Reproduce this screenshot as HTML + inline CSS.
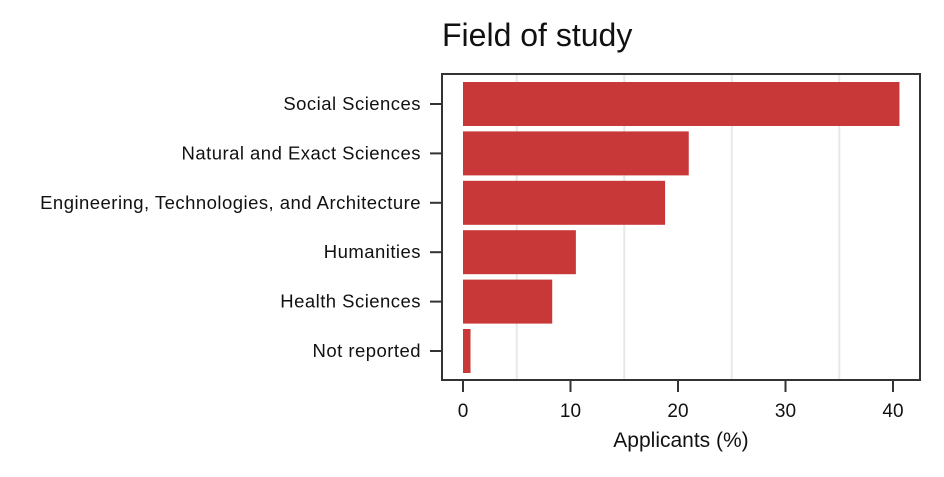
<!DOCTYPE html>
<html><head><meta charset="utf-8"><style>
body{margin:0;background:#fff;}
svg text{font-family:"Liberation Sans",sans-serif;fill:#111;}
</style></head><body>
<svg id="chart" width="944" height="472">
<text x="442" y="46" font-size="32">Field of study</text>
<g id="grid"></g><g id="bars"></g>
<rect x="442" y="74" width="478" height="306" fill="none" stroke="#333" stroke-width="2"/>
<g id="axes"></g>
<text x="681" y="447" font-size="21" text-anchor="middle">Applicants (%)</text>
</svg>
<script>
const categories=["Social Sciences","Natural and Exact Sciences","Engineering, Technologies, and Architecture","Humanities","Health Sciences","Not reported"];
const values=[40.6,21.0,18.8,10.5,8.3,0.7];
const xTicks=[0,10,20,30,40];
const gridTicks=[5,15,25,35];
const ns="http://www.w3.org/2000/svg";
const x=v=>463+v*10.75;
const yc=i=>104+i*49.4;
function mk(t,a,p){const e=document.createElementNS(ns,t);for(const k in a)e.setAttribute(k,a[k]);p.appendChild(e);return e;}
const G=document.getElementById('grid'),B=document.getElementById('bars'),A=document.getElementById('axes');
gridTicks.forEach(t=>{const l=mk('line',{x1:x(t),x2:x(t),y1:75,y2:379,stroke:'#e8e8e8','stroke-width':2},G);

});
values.forEach((v,i)=>{const r=mk('rect',{x:x(0),y:yc(i)-22,width:x(v)-x(0),height:44,fill:'#c83838'},B);


const tk=mk('line',{x1:430,x2:442,y1:yc(i),y2:yc(i),stroke:'#333','stroke-width':2},A);


const tx=mk('text',{x:421,y:yc(i)+6,'font-size':18.5,'letter-spacing':0.47,'text-anchor':'end'},A);tx.textContent=categories[i];

});
xTicks.forEach(t=>{const tk=mk('line',{x1:x(t),x2:x(t),y1:380,y2:392,stroke:'#333','stroke-width':2},A);


const tx=mk('text',{x:x(t),y:417,'font-size':19,'text-anchor':'middle'},A);tx.textContent=t;

});
</script>
</body></html>
